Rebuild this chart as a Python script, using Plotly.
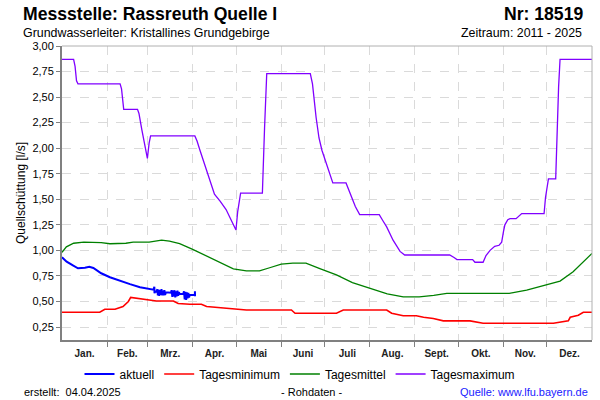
import plotly.graph_objects as go

# ---------------- data ----------------
month_edges = [0, 31, 59, 90, 120, 151, 181, 212, 243, 273, 304, 334, 365]
month_labels = ["Jan.", "Feb.", "Mrz.", "Apr.", "Mai", "Juni", "Juli", "Aug.",
                "Sept.", "Okt.", "Nov.", "Dez."]
y_ticks = [0.25, 0.5, 0.75, 1.0, 1.25, 1.5, 1.75, 2.0, 2.25, 2.5, 2.75, 3.0]
y_tick_labels = ["0,25", "0,50", "0,75", "1,00", "1,25", "1,50", "1,75", "2,00",
                 "2,25", "2,50", "2,75", "3,00"]

# Tagesmaximum (day of year, l/s)
max_day = [0, 8, 9, 10, 11, 40, 41, 42.5, 52, 53, 55, 58.8, 60, 61, 91.5, 93, 95,
           98.5, 102, 105, 109, 113, 119.8, 121, 123, 138, 139.5, 141, 171, 172.5,
           175, 177, 179, 182, 184.6, 186.5, 195.6, 198, 200, 202, 205, 218.5, 221,
           223.6, 228, 232.8, 236, 267, 270, 272, 282.8, 284.4, 290, 292, 294.8, 298,
           301, 302.8, 304, 305, 307, 308.5, 312.7, 316.6, 332, 333, 335, 340, 342,
           343, 365]
max_val = [2.87, 2.87, 2.80, 2.66, 2.63, 2.63, 2.58, 2.38, 2.38, 2.34, 2.18, 1.90,
           2.05, 2.12, 2.12, 2.07, 1.98, 1.83, 1.69, 1.55, 1.48, 1.40, 1.20, 1.38,
           1.56, 1.56, 2.20, 2.73, 2.73, 2.63, 2.30, 2.10, 1.98, 1.85, 1.76, 1.66,
           1.66, 1.57, 1.50, 1.43, 1.35, 1.35, 1.29, 1.23, 1.10, 0.99, 0.955, 0.955,
           0.93, 0.91, 0.91, 0.884, 0.884, 0.95, 1.00, 1.04, 1.05, 1.08, 1.18, 1.25,
           1.30, 1.31, 1.31, 1.36, 1.36, 1.52, 1.70, 1.70, 2.60, 2.87, 2.87]

# Tagesmittel
mittel_day = [0, 3, 8, 15, 27, 33, 44, 49, 60, 68.6, 74, 81, 90, 100, 109, 118, 127,
              136, 143, 151, 159, 168, 178, 189, 200, 212, 224, 235, 246, 256, 265,
              281, 308, 320, 331, 343, 352, 359, 365]
mittel_val = [0.98, 1.035, 1.07, 1.08, 1.075, 1.065, 1.07, 1.08, 1.08, 1.10, 1.09,
              1.065, 1.01, 0.94, 0.875, 0.82, 0.80, 0.80, 0.83, 0.865, 0.875, 0.875,
              0.82, 0.76, 0.685, 0.63, 0.575, 0.545, 0.545, 0.56, 0.58, 0.58, 0.58,
              0.61, 0.65, 0.70, 0.79, 0.89, 0.97]

# Tagesminimum
min_day = [0, 26, 29.5, 36.5, 42, 45.7, 47.3, 53.7, 65, 76.7, 80, 88, 96, 99.6, 118,
           127, 158, 160.5, 189, 193.7, 223.6, 227, 235, 244, 249, 255.7, 262.6, 281,
           290, 338.4, 348.7, 350, 355.6, 359, 365]
min_val = [0.394, 0.394, 0.424, 0.424, 0.45, 0.50, 0.54, 0.527, 0.505, 0.505, 0.48,
           0.473, 0.473, 0.45, 0.43, 0.417, 0.417, 0.385, 0.385, 0.417, 0.417, 0.385,
           0.36, 0.36, 0.345, 0.333, 0.31, 0.31, 0.287, 0.287, 0.31, 0.345, 0.365,
           0.394, 0.394]

# aktuell (2025, raw data)
akt_day = [0, 3.2, 7.8, 11, 15.8, 18.8, 21.6, 27, 33, 40, 46.8, 53.7, 60.6, 63,
           63.6, 63.7, 64, 65, 65.7, 66, 66.5, 67, 67.5, 68, 68.5, 69, 69.5, 70, 70.5,
           71, 71.6, 75, 75.5, 76, 76.5, 77, 77.5, 78, 78.5, 79, 79.5, 80, 80.5, 81,
           83.5, 84, 84.5, 85, 85.5, 86, 86.5, 87, 87.5, 88, 91.5, 91.55, 91.6]
akt_val = [0.932, 0.89, 0.85, 0.825, 0.83, 0.84, 0.828, 0.776, 0.737, 0.70, 0.67,
           0.64, 0.62, 0.615, 0.645, 0.58, 0.60, 0.595, 0.62, 0.56, 0.615, 0.555,
           0.61, 0.565, 0.62, 0.56, 0.605, 0.56, 0.61, 0.565, 0.59, 0.586, 0.61,
           0.545, 0.605, 0.55, 0.61, 0.54, 0.60, 0.55, 0.605, 0.555, 0.59, 0.574,
           0.574, 0.60, 0.52, 0.595, 0.515, 0.59, 0.53, 0.585, 0.54, 0.565, 0.564,
           0.60, 0.55]

# ---------------- layout helpers ----------------
W, H = 600, 400
L, R, T, B = 62, 592, 46, 340
FONT = "Liberation Sans, Arial, sans-serif"


def px(x):
    return (x - L) / (R - L)


def py(y):
    return (B - y) / (B - T)


month_centers = [(a + b) / 2 for a, b in zip(month_edges[:-1], month_edges[1:])]

fig = go.Figure()
fig.add_trace(go.Scatter(x=akt_day, y=akt_val, mode="lines", name="aktuell",
                         line=dict(color="#0000ff", width=2)))
fig.add_trace(go.Scatter(x=min_day, y=min_val, mode="lines", name="Tagesminimum",
                         line=dict(color="#ff0000", width=1.6)))
fig.add_trace(go.Scatter(x=mittel_day, y=mittel_val, mode="lines", name="Tagesmittel",
                         line=dict(color="#008000", width=1.3)))
fig.add_trace(go.Scatter(x=max_day, y=max_val, mode="lines", name="Tagesmaximum",
                         line=dict(color="#8000ff", width=1.3)))

fig.update_layout(
    width=W, height=H,
    margin=dict(l=L, r=W - R, t=T, b=H - B, pad=0),
    paper_bgcolor="white", plot_bgcolor="white",
    font=dict(family=FONT, size=11, color="#000000"),
    showlegend=True,
    legend=dict(orientation="h", x=px(300), xanchor="center", y=py(374),
                yanchor="middle", font=dict(size=12, family=FONT),
                itemwidth=30, tracegroupgap=0, bgcolor="rgba(0,0,0,0)"),
    xaxis=dict(range=[0, 365], tickmode="array", tickvals=month_centers,
               ticktext=month_labels, ticks="", showgrid=False, zeroline=False,
               showline=True, linecolor="#808080", linewidth=2, ticklabelstandoff=3,
               tickfont=dict(family=FONT, size=10, color="#222222", weight=700),
               minor=dict(tickmode="array", tickvals=month_edges[1:-1], ticks="outside",
                          ticklen=5, tickcolor="#808080", tickwidth=1, showgrid=True,
                          gridcolor="#dadada", griddash="dash", gridwidth=1),
               fixedrange=True),
    yaxis=dict(range=[0.123, 3.0], tickmode="array", tickvals=y_ticks,
               ticktext=y_tick_labels, ticks="outside", ticklen=4, tickcolor="#808080",
               showgrid=True, gridcolor="#dadada", griddash="dash", gridwidth=1,
               zeroline=False, showline=True, linecolor="#808080", linewidth=2,
               tickfont=dict(family=FONT, size=11, color="#000000"), fixedrange=True),
)

# top and right frame of the plot area
fig.add_shape(type="line", xref="paper", yref="paper", x0=0, x1=1, y0=1, y1=1,
              line=dict(color="#b0b0b0", width=1))
fig.add_shape(type="line", xref="paper", yref="paper", x0=1, x1=1, y0=0, y1=1,
              line=dict(color="#b0b0b0", width=1))

anns = [
    dict(text="Messstelle: Rassreuth Quelle I", x=px(21), y=py(14), xanchor="left",
         font=dict(size=17.6, weight=700)),
    dict(text="Grundwasserleiter: Kristallines Grundgebirge", x=px(21), y=py(33.5),
         xanchor="left", font=dict(size=12.4)),
    dict(text="Nr: 18519", x=px(585), y=py(14), xanchor="right",
         font=dict(size=17.6, weight=700)),
    dict(text="Zeitraum: 2011 - 2025", x=px(584), y=py(33.5), xanchor="right",
         font=dict(size=12.4)),
    dict(text="Quellschüttung [l/s]", x=px(21), y=py(193), xanchor="center",
         textangle=-90, font=dict(size=12)),
    dict(text="erstellt:  04.04.2025", x=px(22), y=py(392), xanchor="left",
         font=dict(size=11)),
    dict(text="- Rohdaten -", x=px(311), y=py(392), xanchor="center",
         font=dict(size=11)),
    dict(text="Quelle: www.lfu.bayern.de", x=px(590), y=py(392), xanchor="right",
         font=dict(size=11, color="#2020ff")),
]
for a in anns:
    a.update(xref="paper", yref="paper", showarrow=False, yanchor="middle")
    a["font"].setdefault("family", FONT)
    a["font"].setdefault("color", "#000000")
    fig.add_annotation(**a)

fig.write_html("out.html", config={"displayModeBar": False},
               post_script="document.body.style.margin='0';document.body.style.overflow='hidden';")
